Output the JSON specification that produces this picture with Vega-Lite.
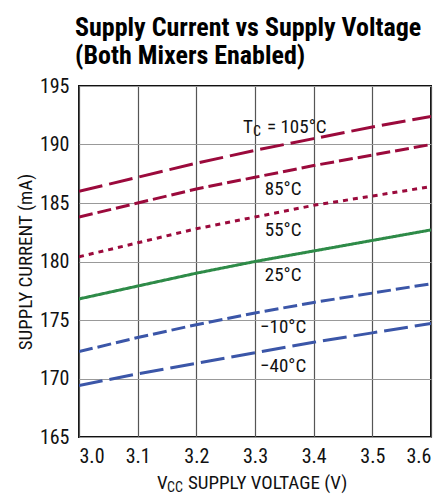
{
  "$schema": "https://vega.github.io/schema/vega-lite/v6.json",
  "width": 352,
  "height": 351,
  "autosize": {"type": "none"},
  "padding": {"left": 79, "top": 86, "right": 14, "bottom": 58},
  "background": "white",
  "config": {
    "font": "'Roboto Condensed', 'DejaVu Sans Condensed', Roboto, sans-serif",
    "view": {"stroke": "#111", "strokeWidth": 2},
    "axis": {"labelFont": "'Roboto Condensed', 'DejaVu Sans Condensed', Roboto, sans-serif", "labelFontSize": 20, "labelColor": "#111", "ticks": false, "domain": false, "titleFont": "'Roboto Condensed', 'DejaVu Sans Condensed', Roboto, sans-serif", "titleFontWeight": "normal", "titleColor": "#111"}
  },
  "title": {
    "text": ["Supply Current vs Supply Voltage", "(Both Mixers Enabled)"],
    "font": "'Roboto Condensed', 'Arial Narrow', Roboto, sans-serif",
    "fontWeight": "bold",
    "fontSize": 26,
    "lineHeight": 28,
    "anchor": "start",
    "frame": "group",
    "dx": -4,
    "offset": 7,
    "color": "#000"
  },
  "datasets": {
    "curves": [
      {"s": "105", "v": 3.0, "i": 186.0}, {"s": "105", "v": 3.1, "i": 187.2}, {"s": "105", "v": 3.2, "i": 188.4}, {"s": "105", "v": 3.3, "i": 189.5}, {"s": "105", "v": 3.4, "i": 190.5}, {"s": "105", "v": 3.5, "i": 191.5}, {"s": "105", "v": 3.6, "i": 192.4},
      {"s": "85", "v": 3.0, "i": 183.8}, {"s": "85", "v": 3.1, "i": 185.0}, {"s": "85", "v": 3.2, "i": 186.2}, {"s": "85", "v": 3.3, "i": 187.2}, {"s": "85", "v": 3.4, "i": 188.2}, {"s": "85", "v": 3.5, "i": 189.1}, {"s": "85", "v": 3.6, "i": 190.0},
      {"s": "55", "v": 3.0, "i": 180.4}, {"s": "55", "v": 3.1, "i": 181.6}, {"s": "55", "v": 3.2, "i": 182.8}, {"s": "55", "v": 3.3, "i": 183.8}, {"s": "55", "v": 3.4, "i": 184.8}, {"s": "55", "v": 3.5, "i": 185.6}, {"s": "55", "v": 3.6, "i": 186.4},
      {"s": "25", "v": 3.0, "i": 176.8}, {"s": "25", "v": 3.1, "i": 177.9}, {"s": "25", "v": 3.2, "i": 179.0}, {"s": "25", "v": 3.3, "i": 180.0}, {"s": "25", "v": 3.4, "i": 180.9}, {"s": "25", "v": 3.5, "i": 181.8}, {"s": "25", "v": 3.6, "i": 182.7},
      {"s": "-10", "v": 3.0, "i": 172.3}, {"s": "-10", "v": 3.1, "i": 173.5}, {"s": "-10", "v": 3.2, "i": 174.6}, {"s": "-10", "v": 3.3, "i": 175.6}, {"s": "-10", "v": 3.4, "i": 176.5}, {"s": "-10", "v": 3.5, "i": 177.3}, {"s": "-10", "v": 3.6, "i": 178.1},
      {"s": "-40", "v": 3.0, "i": 169.4}, {"s": "-40", "v": 3.1, "i": 170.4}, {"s": "-40", "v": 3.2, "i": 171.3}, {"s": "-40", "v": 3.3, "i": 172.2}, {"s": "-40", "v": 3.4, "i": 173.1}, {"s": "-40", "v": 3.5, "i": 173.9}, {"s": "-40", "v": 3.6, "i": 174.7}
    ],
    "labels": [
      {"t": "85°C", "v": 3.348, "i": 186.2},
      {"t": "55°C", "v": 3.348, "i": 182.7},
      {"t": "25°C", "v": 3.348, "i": 178.85},
      {"t": "−10°C", "v": 3.348, "i": 174.4},
      {"t": "−40°C", "v": 3.348, "i": 171.07}
    ],
    "main": [
      {"t": "T", "v": 3.2795, "i": 191.5},
      {"t": "= 105°C", "v": 3.3205, "i": 191.5},
      {"t": "V", "v": 3.133, "i": 161.07},
      {"t": "SUPPLY VOLTAGE (V)", "v": 3.1858, "i": 161.07}
    ],
    "subs": [
      {"t": "C", "v": 3.2966, "i": 191.1},
      {"t": "CC", "v": 3.15, "i": 160.64}
    ]
  },
  "layer": [
    {
      "data": {"name": "curves"},
      "mark": {"type": "line", "strokeWidth": 3, "clip": true},
      "encoding": {
        "x": {"field": "v", "type": "quantitative", "scale": {"domain": [3.0, 3.6], "nice": false, "zero": false},
              "axis": {"values": [3.0, 3.1, 3.2, 3.3, 3.4, 3.5, 3.6], "format": ".1f", "title": null, "grid": true, "gridColor": "#555", "gridWidth": 1.2, "labelPadding": 9}},
        "y": {"field": "i", "type": "quantitative", "scale": {"domain": [165, 195], "nice": false, "zero": false},
              "axis": {"values": [165, 170, 175, 180, 185, 190, 195], "title": "SUPPLY CURRENT (mA)", "titleFontSize": 19, "titlePadding": 4, "grid": true, "gridColor": "#999", "gridWidth": 1.2, "labelPadding": 10}},
        "color": {"field": "s", "type": "nominal", "legend": null,
                  "scale": {"domain": ["105", "85", "55", "25", "-10", "-40"], "range": ["#9b0a3c", "#9b0a3c", "#9b0a3c", "#2e8b48", "#3b56a8", "#3b56a8"]}},
        "strokeDash": {"field": "s", "type": "nominal", "legend": null,
                  "scale": {"domain": ["105", "85", "55", "25", "-10", "-40"], "range": [[24, 7], [14, 5], [5, 5], [1, 0], [14, 5], [24, 7]]}}
      }
    },
    {
      "data": {"name": "labels"},
      "mark": {"type": "text", "fontSize": 19, "align": "center", "baseline": "middle", "color": "#111"},
      "encoding": {
        "x": {"field": "v", "type": "quantitative"},
        "y": {"field": "i", "type": "quantitative"},
        "text": {"field": "t"}
      }
    },
    {
      "data": {"name": "main"},
      "mark": {"type": "text", "fontSize": 19, "align": "left", "baseline": "middle", "color": "#111", "clip": false},
      "encoding": {
        "x": {"field": "v", "type": "quantitative"},
        "y": {"field": "i", "type": "quantitative"},
        "text": {"field": "t"}
      }
    },
    {
      "data": {"name": "subs"},
      "mark": {"type": "text", "fontSize": 14, "align": "left", "baseline": "middle", "color": "#111", "clip": false},
      "encoding": {
        "x": {"field": "v", "type": "quantitative"},
        "y": {"field": "i", "type": "quantitative"},
        "text": {"field": "t"}
      }
    }
  ]
}
